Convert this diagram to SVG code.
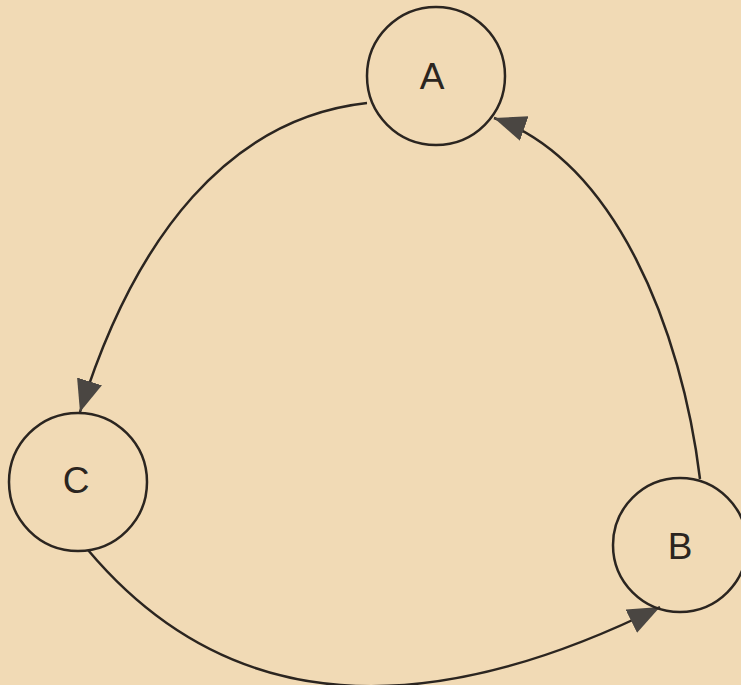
<svg xmlns="http://www.w3.org/2000/svg" width="741" height="685" viewBox="0 0 741 685">
<style>
.node{fill:none;stroke:#2b2520;stroke-width:2.5}
.lbl{font-family:"Liberation Sans",Arial,sans-serif;font-size:37px;fill:#2b2520;text-anchor:middle;dominant-baseline:central}
.edge{fill:none;stroke:#2b2520;stroke-width:2.5}
</style>
<defs>
<marker id="ah" markerUnits="userSpaceOnUse" markerWidth="34" markerHeight="28" refX="32" refY="13" orient="auto">
<path d="M0,0 L32,13 L0,26 Z" fill="#4a4642"/>
</marker>
</defs>
<rect width="741" height="685" fill="#f1dab5"/>
<g id="connectors">
<path class="edge" d="M367,103 C230,118 135,235 80,412" marker-end="url(#ah)"/>
<path class="edge" d="M700,479 C682,330 615,160 494,118" marker-end="url(#ah)"/>
<path class="edge" d="M88,550 Q290,790 660,607" marker-end="url(#ah)"/>
</g>
<g id="A"><circle class="node" cx="436" cy="76" r="69"/><text class="lbl" x="432" y="76">A</text></g>
<g id="C"><circle class="node" cx="78" cy="482" r="69"/><text class="lbl" x="76" y="480">C</text></g>
<g id="B"><circle class="node" cx="680" cy="545" r="67"/><text class="lbl" x="680" y="546">B</text></g>
</svg>
